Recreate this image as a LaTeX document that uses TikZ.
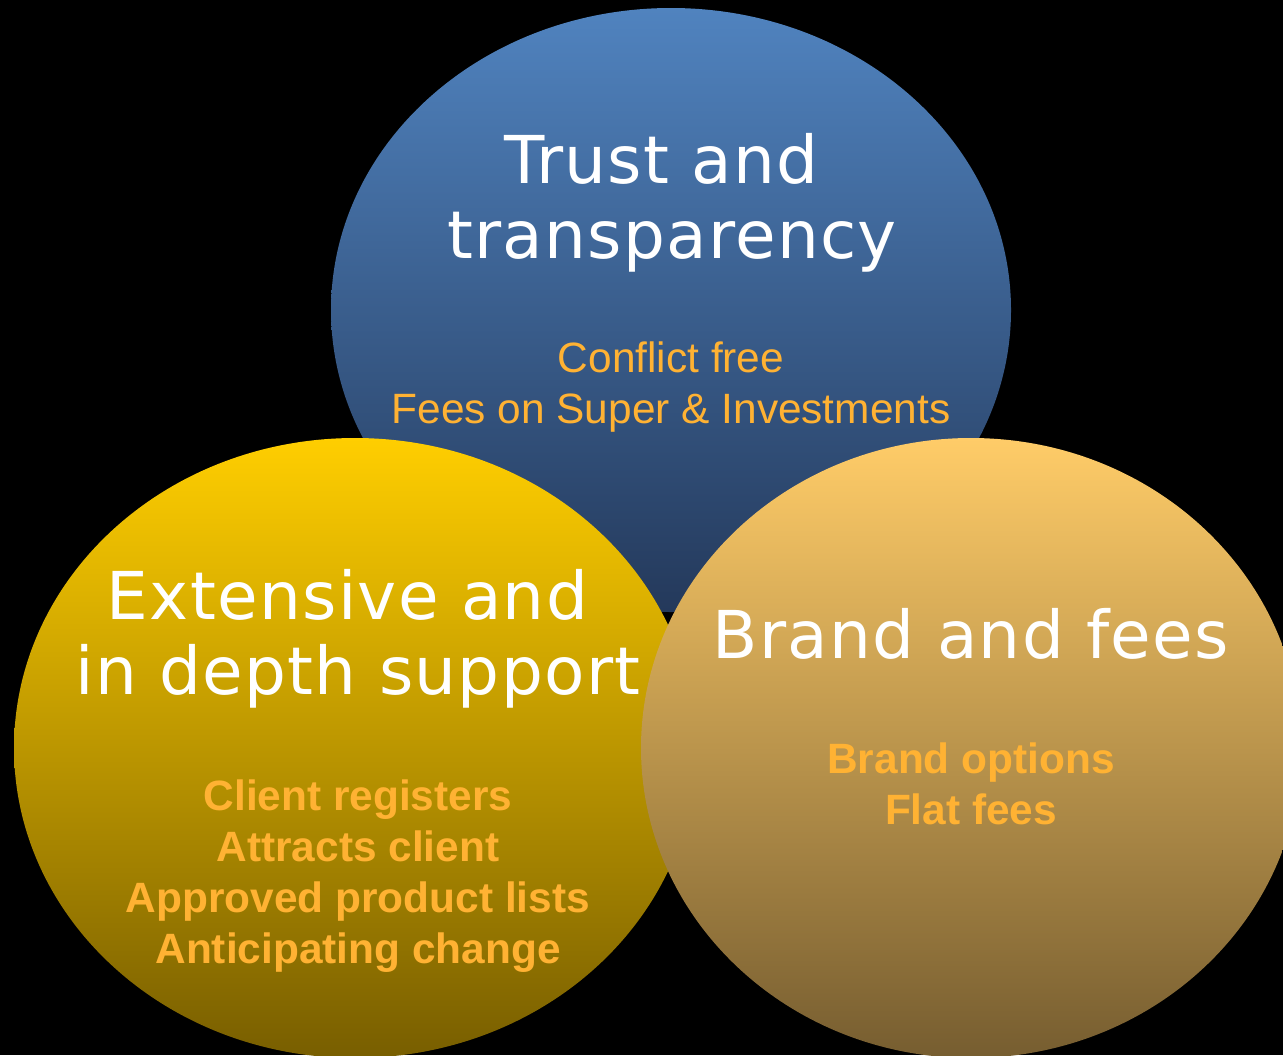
\documentclass[tikz,border=0pt]{standalone}
\usepackage{fontspec}
\setmainfont{Liberation Sans}
\newfontfamily\headfont[LetterSpace=2.0]{DejaVu Sans}
\definecolor{blueTop}{RGB}{80,131,191}
\definecolor{blueBot}{RGB}{36,57,91}
\definecolor{goldTop}{RGB}{255,206,0}
\definecolor{goldBot}{RGB}{120,94,0}
\definecolor{sandTop}{RGB}{255,204,104}
\definecolor{sandBot}{RGB}{118,93,48}
\definecolor{itemOrange}{RGB}{255,178,51}
\begin{document}
\begin{tikzpicture}[x=0.5pt,y=-0.5pt,
        headtext/.style={text=white,font=\headfont\fontsize{33}{37.5}\selectfont,align=center,inner sep=0pt,anchor=base},
        itemtext/.style={text=itemOrange,font=\fontsize{21.2}{25.5}\selectfont,align=center,inner sep=0pt,anchor=base}]
        \useasboundingbox (0,0) rectangle (1283,1055);
        \fill[black] (0,0) rectangle (1283,1055);
        \clip (0,0) rectangle (1283,1055);
        % the three circles
        \shade[top color=blueTop,bottom color=blueBot] (671,310) ellipse [x radius=340,y radius=302];
        \shade[top color=goldTop,bottom color=goldBot] (355,748) ellipse [x radius=341,y radius=310];
        \shade[top color=sandTop,bottom color=sandBot] (971,748) ellipse [x radius=330,y radius=310];
        % headings (base = baseline of last line)
        \node[headtext] (trust) at (672,258) {Trust and\kern.32em\\transparency};
        \node[headtext] (support) at (358,694) {Extensive and\kern.32em\\in depth support};
        \node[headtext] (brand) at (971,658) {Brand and fees};
        % points under each heading
        \node[itemtext] (trustpts) at (671,423) {Conflict free\\Fees on Super \& Investments};
        \node[itemtext,font=\bfseries\fontsize{21.2}{25.5}\selectfont] (supportpts) at (358,963) {Client registers\\Attracts client\\Approved product lists\\Anticipating change};
        \node[itemtext,font=\bfseries\fontsize{21.2}{25.5}\selectfont] (brandpts) at (971,824) {Brand options\\Flat fees};
    \end{tikzpicture}
\end{document}
